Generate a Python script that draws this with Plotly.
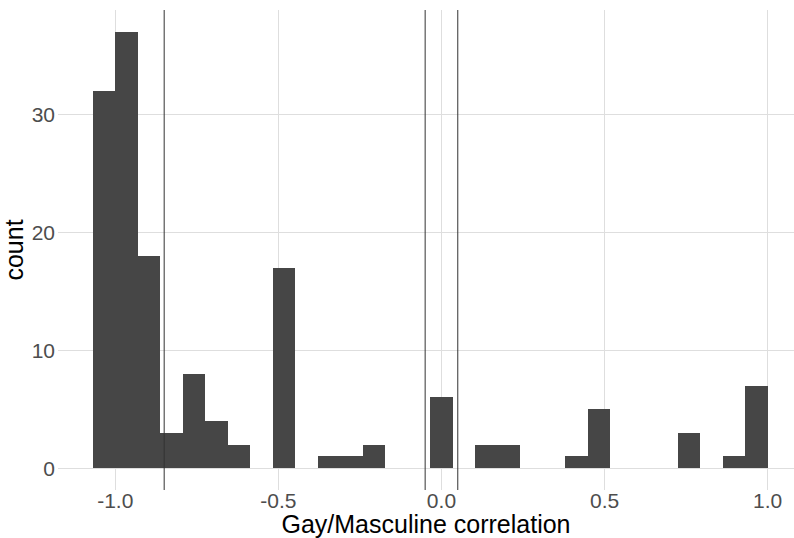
import plotly.graph_objects as go

# Histogram of Gay/Masculine correlation: 30 bins of width 2/29, last edge at 1.0
counts = [32, 37, 18, 3, 8, 4, 2, 0, 17, 0, 1, 1, 2, 0, 0,
          6, 0, 2, 2, 0, 0, 1, 5, 0, 0, 0, 3, 0, 1, 7]
bin_width = 2 / 29
first_edge = -1 - bin_width
bin_centers = [first_edge + (k + 0.5) * bin_width for k in range(len(counts))]

vline_x = [-0.85, -0.05, 0.05]

x_ticks = [-1.0, -0.5, 0.0, 0.5, 1.0]
x_ticktext = ["-1.0", "-0.5", "0.0", "0.5", "1.0"]
y_ticks = [0, 10, 20, 30]

fig = go.Figure()
fig.add_trace(go.Bar(
    x=bin_centers, y=counts, width=bin_width,
    marker=dict(color="#464646", line=dict(width=0)),
    hoverinfo="x+y",
))

for v in vline_x:
    fig.add_shape(type="line", xref="x", yref="paper", x0=v, x1=v, y0=0, y1=1,
                  line=dict(color="#333333", width=1))

FONT = "Liberation Sans, Arial, sans-serif"
fig.update_layout(
    width=794, height=538,
    margin=dict(l=58, r=0, t=10, b=48, pad=0),
    paper_bgcolor="white", plot_bgcolor="white",
    showlegend=False, bargap=0,
    font=dict(family=FONT),
    xaxis=dict(
        range=[-1.1755, 1.0807],
        tickvals=x_ticks, ticktext=x_ticktext,
        tickfont=dict(size=21, color="#4d4d4d", family=FONT),
        showgrid=True, gridcolor="#dedede", gridwidth=1,
        zeroline=False, showline=False, ticks="",
        ticklabelstandoff=-4,
        title=dict(text="Gay/Masculine correlation",
                   font=dict(size=25, color="black", family=FONT), standoff=6),
        automargin=False,
    ),
    yaxis=dict(
        range=[-1.85, 38.85],
        tickvals=y_ticks,
        tickfont=dict(size=21, color="#4d4d4d", family=FONT),
        showgrid=True, gridcolor="#dedede", gridwidth=1,
        zeroline=False, showline=False, ticks="",
        ticklabelstandoff=2,
        title=dict(text="count", font=dict(size=25, color="black", family=FONT), standoff=4),
        automargin=False,
    ),
)

fig.write_html("out.html")
